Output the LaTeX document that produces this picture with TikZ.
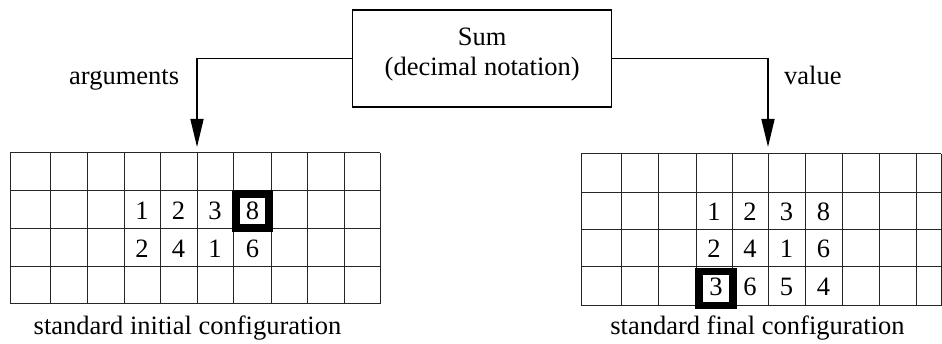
\documentclass[tikz,border=0pt]{standalone}
\usepackage{fontspec}
\setmainfont{Liberation Serif}
\usetikzlibrary{arrows.meta}
\tikzset{
  txt/.style={inner sep=0pt, font=\fontsize{26.5}{30}\selectfont},
  boxst/.style={draw, line width=1.5pt, minimum width=259pt, minimum height=97pt, inner sep=0pt},
  conn/.style={line width=1.6pt, -{Triangle[length=28pt,width=13pt]}},
  gridline/.style={line width=1pt, black!85},
  hl/.style={line width=7.5pt, line join=miter},
}
\begin{document}
\begin{tikzpicture}[x=1pt,y=-1pt]
\useasboundingbox (0,0) rectangle (942,344);
% central box
\node[boxst] (sum) at (482.2,58.5) {};
\node[txt, align=center] (sumtext) at (482.2,54.8) {Sum\\(decimal notation)};
% arrow end points above grids
\coordinate (argin) at (197,147);
\coordinate (valout) at (768,147);
\draw[conn] (sum.west) -| (argin);
\draw[conn] (sum.east) -| (valout);
\node[txt, anchor=base east] (arglab) at (179.3,84.3) {arguments};
\node[txt, anchor=base west] (vallab) at (784,85) {value};
% left grid
\foreach \x in {10,50,87,124,160,197,233,271,307,344,380}
  \draw[gridline] (\x,153) -- (\x,304);
\foreach \y in {153,191,229,267,304}
  \draw[gridline] (10,\y) -- (380,\y);
% right grid
\foreach \x in {581,621,658,696,732,768,805,842,879,916,941}
  \draw[gridline] (\x,154) -- (\x,306);
\foreach \y in {154,193,230,267,306}
  \draw[gridline] (581,\y) -- (941,\y);
% highlights
\draw[hl] (236.2,194) rectangle (268.8,228);
\draw[hl] (699,271.7) rectangle (733,305.5);
% left digits
\node[txt] (l21) at (142,210.5) {1};
\node[txt] (l22) at (178.5,210.5) {2};
\node[txt] (l23) at (215,210.5) {3};
\node[txt] (l24) at (252.5,210.5) {8};
\node[txt] (l31) at (142,248.5) {2};
\node[txt] (l32) at (178.5,248.5) {4};
\node[txt] (l33) at (215,248.5) {1};
\node[txt] (l34) at (252.5,248.5) {6};
% right digits
\node[txt] (r21) at (714,212) {1};
\node[txt] (r22) at (750,212) {2};
\node[txt] (r23) at (786.5,212) {3};
\node[txt] (r24) at (823.5,212) {8};
\node[txt] (r31) at (714,249) {2};
\node[txt] (r32) at (750,249) {4};
\node[txt] (r33) at (786.5,249) {1};
\node[txt] (r34) at (823.5,249) {6};
\node[txt] (r41) at (716,287) {3};
\node[txt] (r42) at (750,287) {6};
\node[txt] (r43) at (786.5,287) {5};
\node[txt] (r44) at (823.5,287) {4};
% captions
\node[txt, anchor=base] (capl) at (187.5,335) {standard initial configuration};
\node[txt, anchor=base] (capr) at (757.5,335) {standard final configuration};
\end{tikzpicture}
\end{document}
